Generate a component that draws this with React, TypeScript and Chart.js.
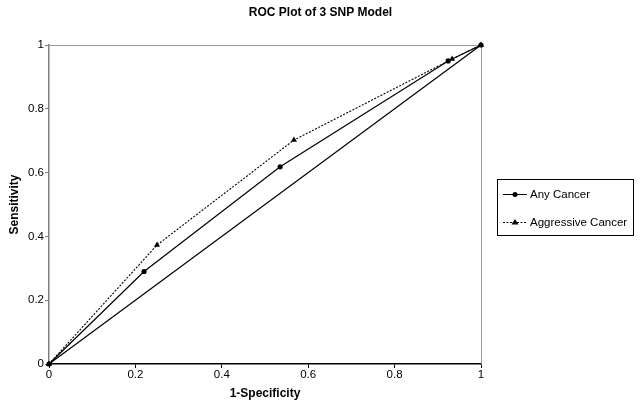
import React, { useEffect, useRef } from "react";
import { Chart, registerables } from "chart.js";

Chart.register(...registerables);

const chartTitle = "ROC Plot of 3 SNP Model";
const xAxisTitle = "1-Specificity";
const yAxisTitle = "Sensitivity";

const anyCancerLabel = "Any Cancer";
const anyCancerX = [0, 0.22, 0.535, 0.924, 1];
const anyCancerY = [0, 0.29, 0.618, 0.95, 1];

const aggressiveLabel = "Aggressive Cancer";
const aggressiveX = [0, 0.25, 0.567, 0.933, 1];
const aggressiveY = [0, 0.373, 0.702, 0.956, 1];

const referenceX = [0, 1];
const referenceY = [0, 1];

const xTicks = [0, 0.2, 0.4, 0.6, 0.8, 1];
const yTicks = [0, 0.2, 0.4, 0.6, 0.8, 1];

const FONT = "'Liberation Sans', Arial, sans-serif";

const toPoints = (xs: number[], ys: number[]) => xs.map((x, i) => ({ x, y: ys[i] }));
const fmt = (v: any) => String(Math.round(Number(v) * 10) / 10);

const framePlugin = {
  id: "frame",
  beforeDatasetsDraw(chart: any) {
    const { ctx, chartArea } = chart;
    ctx.save();
    ctx.strokeStyle = "#9a9a9a";
    ctx.lineWidth = 1;
    ctx.beginPath();
    ctx.moveTo(chartArea.left, chartArea.top + 0.5);
    ctx.lineTo(chartArea.right + 0.5, chartArea.top + 0.5);
    ctx.lineTo(chartArea.right + 0.5, chartArea.bottom);
    ctx.stroke();
    ctx.restore();
  },
  afterDraw(chart: any) {
    const { ctx } = chart;
    ctx.save();
    ctx.fillStyle = "#000";
    ctx.font = `bold 12px ${FONT}`;
    ctx.textAlign = "center";
    ctx.textBaseline = "middle";
    ctx.fillText(chartTitle, chart.width / 2, 13);

    // legend
    const bx = 497.5, by = 179.5, bw = 136, bh = 56;
    ctx.strokeStyle = "#000";
    ctx.lineWidth = 1;
    ctx.strokeRect(bx, by, bw, bh);
    const rows = [
      { label: chart.data.datasets[0].label, dash: [], style: "circle", y: 194 },
      { label: chart.data.datasets[1].label, dash: [2, 1.5], style: "triangle", y: 222 },
    ];
    rows.forEach((r) => {
      ctx.setLineDash(r.dash);
      ctx.lineWidth = 1;
      ctx.beginPath();
      ctx.moveTo(503, r.y + 0.5);
      ctx.lineTo(527, r.y + 0.5);
      ctx.stroke();
      ctx.setLineDash([]);
      ctx.fillStyle = "#000";
      ctx.beginPath();
      if (r.style === "circle") {
        ctx.arc(515, r.y + 0.5, 2.5, 0, Math.PI * 2);
      } else {
        ctx.moveTo(515, r.y - 3);
        ctx.lineTo(518.5, r.y + 2.5);
        ctx.lineTo(511.5, r.y + 2.5);
        ctx.closePath();
      }
      ctx.fill();
      ctx.font = `11.5px ${FONT}`;
      ctx.textAlign = "left";
      ctx.fillText(r.label, 530, r.y + 0.5);
    });
    ctx.restore();
  },
};

export default function App() {
  const canvasRef = useRef<HTMLCanvasElement | null>(null);

  useEffect(() => {
    document.body.style.margin = "0";
    const canvas = canvasRef.current;
    if (!canvas) return;
    const chart = new Chart(canvas, {
      type: "scatter",
      data: {
        datasets: [
          {
            label: anyCancerLabel,
            data: toPoints(anyCancerX, anyCancerY),
            showLine: true,
            borderColor: "#000",
            backgroundColor: "#000",
            borderWidth: 1.2,
            pointStyle: "circle",
            pointRadius: 2.6,
            pointBorderWidth: 0,
            clip: false,
          } as any,
          {
            label: aggressiveLabel,
            data: toPoints(aggressiveX, aggressiveY),
            showLine: true,
            borderColor: "#000",
            backgroundColor: "#000",
            borderWidth: 1.1,
            borderDash: [2, 1.5],
            pointStyle: "triangle",
            pointRadius: 3.5,
            pointBorderWidth: 0,
            clip: false,
          } as any,
          {
            label: "Reference",
            data: toPoints(referenceX, referenceY),
            showLine: true,
            borderColor: "#000",
            backgroundColor: "#000",
            borderWidth: 1.2,
            pointRadius: 0,
            clip: false,
          } as any,
        ],
      },
      options: {
        responsive: false,
        animation: false,
        layout: { padding: { left: 0, top: 45, right: 160, bottom: 0 } },
        plugins: {
          legend: { display: false },
          title: { display: false },
          tooltip: { enabled: false },
        },
        scales: {
          x: {
            type: "linear",
            min: 0,
            max: 1,
            afterBuildTicks: (scale: any) => {
              scale.ticks = xTicks.map((v) => ({ value: v }));
            },
            afterFit: (scale: any) => {
              scale.height = 42;
            },
            ticks: {
              color: "#000",
              font: { family: FONT, size: 11.5 },
              padding: 0,
              maxRotation: 0,
              callback: fmt,
            },
            grid: {
              display: true,
              drawOnChartArea: false,
              drawTicks: true,
              tickLength: 4,
              color: "#000",
            },
            border: { display: true, color: "#000", width: 1.5 },
            title: {
              display: true,
              text: xAxisTitle,
              color: "#000",
              font: { family: FONT, size: 12, weight: "bold" },
              padding: { top: 0, bottom: 5 },
            },
          },
          y: {
            type: "linear",
            min: 0,
            max: 1,
            afterBuildTicks: (scale: any) => {
              scale.ticks = yTicks.map((v) => ({ value: v }));
            },
            afterFit: (scale: any) => {
              scale.width = 49;
            },
            ticks: {
              color: "#000",
              font: { family: FONT, size: 11.5 },
              padding: 1,
              callback: fmt,
            },
            grid: {
              display: true,
              drawOnChartArea: false,
              drawTicks: true,
              tickLength: 4,
              color: "#808080",
            },
            border: { display: true, color: "#808080", width: 1.5 },
            title: {
              display: true,
              text: yAxisTitle,
              color: "#000",
              font: { family: FONT, size: 12, weight: "bold" },
              padding: { top: 7, bottom: 0 },
            },
          },
        },
      } as any,
      plugins: [framePlugin],
    });
    return () => chart.destroy();
  }, []);

  return (
    <div style={{ width: 641, height: 406 }}>
      <canvas ref={canvasRef} width={641} height={406} style={{ display: "block" }} />
    </div>
  );
}
